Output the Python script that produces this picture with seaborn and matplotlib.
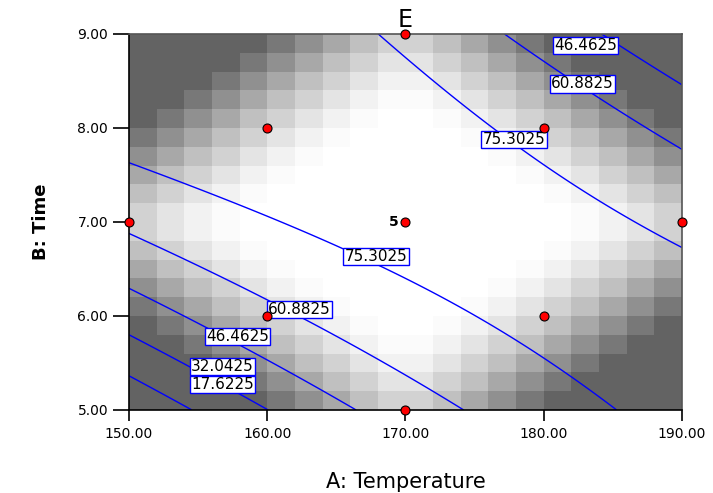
"""
Contour plot of response E over Temperature and Time
(Design-Expert style: grey shaded background, blue contour lines, red design points)
"""

import numpy as np
import matplotlib
matplotlib.use("Agg")
import matplotlib.pyplot as plt
import seaborn as sns

sns.set_style("white")
plt.rcParams["font.family"] = ["DejaVu Sans"]
plt.rcParams["text.color"] = "black"
plt.rcParams["axes.labelcolor"] = "black"

# ---------------------------------------------------------
# Data
# ---------------------------------------------------------
temp_ticks = [150, 160, 170, 180, 190]
time_ticks = [5, 6, 7, 8, 9]

# design points (A: Temperature, B: Time), centre point run 5 times
design_temp = [150, 160, 170, 180, 190, 160, 170, 180, 170]
design_time = [7, 8, 9, 8, 7, 6, 5, 6, 7]
center_reps = 5

# quadratic model for E in coded units: b0, A, B, AB, A^2, B^2
model_coef = [79.66, 2.22, 4.77, -8.25, -2.92, -4.15]
contour_levels = [17.6225, 32.0425, 46.4625, 60.8825, 75.3025]

# contour label positions
label_temp = [183.0, 182.8, 177.85, 167.87, 162.33, 157.84, 156.76, 156.76]
label_time = [8.88, 8.47, 7.88, 6.63, 6.07, 5.78, 5.46, 5.27]
label_level = [46.4625, 60.8825, 75.3025, 75.3025, 60.8825, 46.4625, 32.0425, 17.6225]

# background shading: 20 x 20 cells, top row first, code 0 (dark) .. 9 (white)
shade_rows = [
    "00000123455432100000",
    "00001234566543210000",
    "00012345677654321000",
    "00123456788765432100",
    "01234567899876543210",
    "12345678999987654321",
    "23456789999998765432",
    "34567899999999876543",
    "45678999999999987654",
    "56789999999999998765",
    "56789999999999998765",
    "45678999999999987654",
    "34567899999999876543",
    "23456789999998765432",
    "12345678999987654321",
    "01234567899876543210",
    "00123456788765432100",
    "00012345677654321000",
    "00001234566543210000",
    "00000123455432100000",
]
shade_gray = [99, 120, 144, 168, 192, 210, 228, 242, 251, 255]

# ---------------------------------------------------------
# Build grids
# ---------------------------------------------------------
shade = np.array([[shade_gray[int(c)] for c in row] for row in shade_rows])[::-1]
x_edges = np.linspace(temp_ticks[0], temp_ticks[-1], shade.shape[1] + 1)
y_edges = np.linspace(time_ticks[0], time_ticks[-1], shade.shape[0] + 1)

tt, tm = np.meshgrid(np.linspace(150, 190, 241), np.linspace(5, 9, 241))
a = (tt - 170) / 10
b = tm - 7
b0, b1, b2, b12, b11, b22 = model_coef
resp = b0 + b1 * a + b2 * b + b12 * a * b + b11 * a ** 2 + b22 * b ** 2

# ---------------------------------------------------------
# Plot
# ---------------------------------------------------------
fig = plt.figure(figsize=(7.13, 4.93), dpi=100)
ax = fig.add_axes([0.1809, 0.1684, 0.7756, 0.7627])

ax.pcolormesh(x_edges, y_edges, shade, cmap="gray", vmin=0, vmax=255, zorder=1)
ax.contour(tt, tm, resp, levels=contour_levels, colors="#0000ff", linewidths=1.0, zorder=2)

for x, y, lvl in zip(label_temp, label_time, label_level):
    ax.text(x, y, f"{lvl:.4f}", ha="center", va="center", fontsize=11, zorder=4,
            bbox=dict(boxstyle="square,pad=0.08", fc="white", ec="#0000ff", lw=1.0))

sns.scatterplot(x=design_temp, y=design_time, color="#ff0000", edgecolor="black",
                s=42, linewidth=0.8, ax=ax, zorder=5, clip_on=False, legend=False)
ax.annotate(str(center_reps), (170, 7), xytext=(-5, 0), textcoords="offset points",
            ha="right", va="center", fontsize=10, fontweight="bold", zorder=6)

ax.set_xlim(150, 190)
ax.set_ylim(5, 9)
ax.set_xticks(temp_ticks)
ax.set_xticklabels([f"{v:.2f}" for v in temp_ticks])
ax.set_yticks(time_ticks)
ax.set_yticklabels([f"{v:.2f}" for v in time_ticks])
ax.tick_params(axis="x", bottom=True, length=8, width=1.2, pad=4, labelsize=10, colors="black")
ax.tick_params(axis="y", left=True, length=11.5, width=1.2, pad=3.5, labelsize=10, colors="black")

for side in ["left", "bottom"]:
    ax.spines[side].set_color("black")
    ax.spines[side].set_linewidth(1.2)
for side in ["top", "right"]:
    ax.spines[side].set_color("#555555")
    ax.spines[side].set_linewidth(1.2)

ax.set_title("E", fontsize=17, pad=5)
ax.set_xlabel("A: Temperature", fontsize=15)
ax.xaxis.set_label_coords(0.5, -0.165)
ax.set_ylabel("B: Time", fontsize=13, fontweight="bold")
ax.yaxis.set_label_coords(-0.143, 0.5)

fig.savefig("out.png", dpi=100)
